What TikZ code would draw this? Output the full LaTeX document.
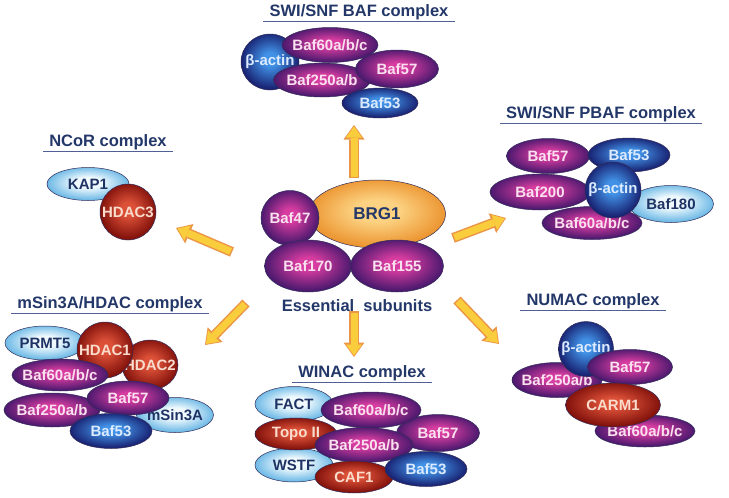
\documentclass[tikz,border=0pt]{standalone}
\usepackage{fontspec}
\setmainfont{Liberation Sans}
\usetikzlibrary{arrows.meta, shapes.geometric}
\usepackage{xcolor}
\definecolor{magc}{RGB}{215,60,160}
\definecolor{mage}{RGB}{75,25,110}
\definecolor{bluec}{RGB}{65,145,230}
\definecolor{bluee}{RGB}{25,35,115}
\definecolor{lbc}{RGB}{240,250,254}
\definecolor{lbe}{RGB}{110,185,230}
\definecolor{redc}{RGB}{220,80,55}
\definecolor{rede}{RGB}{130,18,12}
\definecolor{orc}{RGB}{252,210,130}
\definecolor{ore}{RGB}{236,150,50}
\definecolor{unitedge}{RGB}{50,45,90}
\definecolor{magtext}{RGB}{250,225,240}
\definecolor{bluetext}{RGB}{220,235,255}
\definecolor{lbtext}{RGB}{30,50,100}
\definecolor{redtext}{RGB}{250,220,205}
\definecolor{navy}{RGB}{35,55,105}
\definecolor{ulinecol}{RGB}{80,95,150}
\definecolor{arrowfill}{RGB}{250,205,60}
\definecolor{arrowedge}{RGB}{235,150,70}
\pgfdeclareradialshading{magshade}{\pgfpoint{0bp}{3bp}}{color(0bp)=(magc); color(6bp)=(magc); color(25bp)=(mage); color(50bp)=(mage)}
\pgfdeclareradialshading{blueshade}{\pgfpoint{0bp}{3bp}}{color(0bp)=(bluec); color(6bp)=(bluec); color(25bp)=(bluee); color(50bp)=(bluee)}
\pgfdeclareradialshading{lbshade}{\pgfpoint{0bp}{3bp}}{color(0bp)=(lbc); color(8bp)=(lbc); color(25bp)=(lbe); color(50bp)=(lbe)}
\pgfdeclareradialshading{redshade}{\pgfpoint{0bp}{3bp}}{color(0bp)=(redc); color(6bp)=(redc); color(25bp)=(rede); color(50bp)=(rede)}
\pgfdeclareradialshading{orshade}{\pgfpoint{0bp}{3bp}}{color(0bp)=(orc); color(8bp)=(orc); color(25bp)=(ore); color(50bp)=(ore)}
\newcommand{\unitfont}{\fontsize{15pt}{17pt}\selectfont\bfseries}
\newcommand{\cpxfont}{\fontsize{16.5pt}{19pt}\selectfont\bfseries}
\newcommand{\brgfont}{\fontsize{17pt}{19pt}\selectfont\bfseries}

\begin{document}
\begin{tikzpicture}[x=1pt, y=-1pt,
        unit/.style={ellipse, inner sep=0pt, draw=unitedge, line width=0.5pt},
        mag/.style={unit, shading=magshade, label={[text=magtext, font=\unitfont]center:#1}},
        blu/.style={unit, shading=blueshade, label={[text=bluetext, font=\unitfont]center:#1}},
        lbl/.style={unit, shading=lbshade, label={[text=lbtext, font=\unitfont]center:#1}},
        rdd/.style={unit, shading=redshade, label={[text=redtext, font=\unitfont]center:#1}},
        core/.style={unit, shading=orshade, label={[text=navy, font=\brgfont]center:#1}},
        cpx/.style={font=\cpxfont, text=navy, inner xsep=6pt, inner ysep=1.5pt, anchor=base},
        uline/.style={draw=ulinecol, line width=1.2pt},
        bigarrow/.style={line width=7pt, draw=arrowfill,
                         -{Triangle[width=16pt, length=11pt, line width=0pt]},
                         shorten >=1.5pt, shorten <=1.5pt,
                         preaction={draw=arrowedge, line width=10pt, shorten >=0pt, shorten <=0pt,
                                    -{Triangle[width=21pt, length=14.5pt, line width=0pt]}}}
    ]
        \fill[white] (0,0) rectangle (729,498);
        \useasboundingbox (0,0) rectangle (729,498);

        % Titres des complexes
        \node[cpx] (baft) at (359,16) {SWI/SNF BAF complex};
        \node[cpx] (pbaft) at (601,118) {SWI/SNF PBAF complex};
        \node[cpx] (ncort) at (108,146) {NCoR complex};
        \node[cpx] (msint) at (110,308) {mSin3A/HDAC complex};
        \node[cpx] (winact) at (362,377) {WINAC complex};
        \node[cpx] (numact) at (593,305) {NUMAC complex};
        \foreach \t in {baft, pbaft, ncort, msint, winact, numact}
            \draw[uline] (\t.south west) -- (\t.south east);

        % SWI/SNF BAF
        \node[blu=β-actin, minimum width=58pt, minimum height=56pt] (bactin) at (270,62) {};
        \node[mag=Baf60a/b/c, minimum width=96pt, minimum height=35pt] (b60) at (330,45) {};
        \node[mag=Baf250a/b, minimum width=97pt, minimum height=34pt] (b250) at (322,80) {};
        \node[mag=Baf57, minimum width=83pt, minimum height=38pt] (b57) at (397,69) {};
        \node[blu=Baf53, minimum width=76pt, minimum height=30pt] (b53) at (380,103) {};

        % SWI/SNF PBAF
        \node[mag=Baf57, minimum width=83pt, minimum height=35pt] (p57) at (548,156) {};
        \node[blu=Baf53, minimum width=82pt, minimum height=34pt] (p53) at (629,155) {};
        \node[mag=Baf200, minimum width=100pt, minimum height=36pt] (p200) at (540,192) {};
        \node[lbl=Baf180, minimum width=85pt, minimum height=37pt] (p180) at (671,204) {};
        \node[mag=Baf60a/b/c, minimum width=100pt, minimum height=33pt] (p60) at (592,223) {};
        \node[blu=β-actin, minimum width=56pt, minimum height=56pt] (pactin) at (613,190) {};

        % NCoR
        \node[lbl=KAP1, minimum width=82pt, minimum height=33pt] (kap1) at (88,184) {};
        \node[rdd=HDAC3, minimum width=56pt, minimum height=56pt] (hdac3) at (128,212) {};

        % Sous-unités essentielles
        \node[core=BRG1, minimum width=137pt, minimum height=68pt] (brg1) at (377,214) {};
        \node[mag=Baf47, minimum width=58pt, minimum height=55pt] (baf47) at (290,218) {};
        \node[mag=Baf170, minimum width=87pt, minimum height=52pt] (baf170) at (308,266) {};
        \node[mag=Baf155, minimum width=93pt, minimum height=52pt] (baf155) at (397,266) {};
        \node[font=\cpxfont, text=navy] (ess) at (357,306) {Essential\ \ subunits};

        % mSin3A/HDAC
        \node[lbl=PRMT5, minimum width=80pt, minimum height=34pt] (prmt5) at (45,343) {};
        \node[rdd=HDAC2, minimum width=56pt, minimum height=50pt] (hdac2) at (150,365) {};
        \node[rdd=HDAC1, minimum width=56pt, minimum height=56pt] (hdac1) at (105,350) {};
        \node[mag=Baf60a/b/c, minimum width=96pt, minimum height=32pt] (m60) at (60,375) {};
        \node[mag=Baf250a/b, minimum width=96pt, minimum height=34pt] (m250) at (52,410) {};
        \node[lbl=mSin3A, minimum width=77pt, minimum height=35pt] (msin) at (175,415) {};
        \node[mag=Baf57, minimum width=82pt, minimum height=34pt] (m57) at (128,398) {};
        \node[blu=Baf53, minimum width=82pt, minimum height=35pt] (m53) at (111,431) {};

        % WINAC
        \node[lbl=FACT, minimum width=78pt, minimum height=35pt] (fact) at (294,404) {};
        \node[lbl=WSTF, minimum width=78pt, minimum height=34pt] (wstf) at (294,465) {};
        \node[rdd=Topo II, minimum width=82pt, minimum height=32pt] (topo) at (296,434) {};
        \node[mag=Baf57, minimum width=83pt, minimum height=37pt] (w57) at (438,433) {};
        \node[mag=Baf60a/b/c, minimum width=100pt, minimum height=36pt] (w60) at (371,410) {};
        \node[mag=Baf250a/b, minimum width=98pt, minimum height=35pt] (w250) at (364,445) {};
        \node[rdd=CAF1, minimum width=78pt, minimum height=32pt] (caf1) at (354,477) {};
        \node[blu=Baf53, minimum width=82pt, minimum height=35pt] (w53) at (426,469) {};

        % NUMAC
        \node[mag=Baf250a/b, minimum width=90pt, minimum height=35pt] (n250) at (557,380) {};
        \node[blu=β-actin, minimum width=55pt, minimum height=55pt] (nactin) at (586,349) {};
        \node[mag=Baf57, minimum width=85pt, minimum height=35pt] (n57) at (630,367) {};
        \node[mag=Baf60a/b/c, minimum width=100pt, minimum height=32pt] (n60) at (645,431) {};
        \node[rdd=CARM1, minimum width=95pt, minimum height=44pt] (carm1) at (613,405) {};

        % Flèches vers les complexes
        \coordinate (baf-s) at (354,178);   \coordinate (baf-e) at (354,125);
        \coordinate (ncor-s) at (232,252);  \coordinate (ncor-e) at (176,228);
        \coordinate (pbaf-s) at (453,238);  \coordinate (pbaf-e) at (506,218);
        \coordinate (msin-s) at (246,303);  \coordinate (msin-e) at (205,345);
        \coordinate (winac-s) at (354,311); \coordinate (winac-e) at (354,357);
        \coordinate (numac-s) at (457,300); \coordinate (numac-e) at (499,344);
        \foreach \c in {baf, ncor, pbaf, msin, winac, numac}
            \draw[bigarrow] (\c-s) -- (\c-e);
    \end{tikzpicture}
\end{document}
